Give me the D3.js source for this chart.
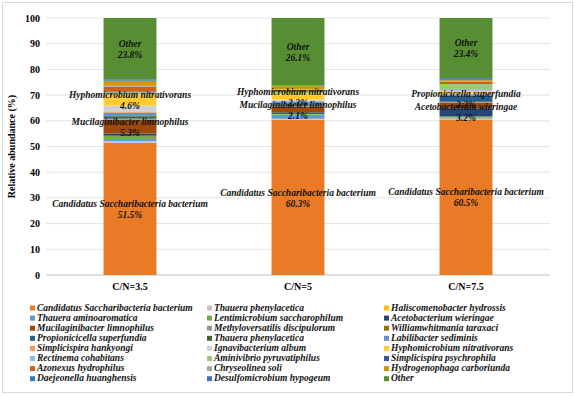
<!DOCTYPE html>
<html>
<head>
<meta charset="utf-8">
<script src="https://cdn.jsdelivr.net/npm/d3@7"></script>
<style>
  body { margin: 0; background: #fff; }
  text { font-family: "Liberation Serif", "Times New Roman", serif; }
</style>
</head>
<body>
<div id="chart"></div>
<script>
// categories (C/N ratio)
const categories = ["C/N=3.5", "C/N=5", "C/N=7.5"];

// species in series order (stacked bottom to top)
const species = [
  "Candidatus Saccharibacteria bacterium", "Thauera phenylacetica", "Haliscomenobacter hydrossis",
  "Thauera aminoaromatica", "Lentimicrobium saccharophilum", "Acetobacterium wieringae",
  "Mucilaginibacter limnophilus", "Methyloversatilis discipulorum", "Williamwhitmania taraxaci",
  "Propionicicella superfundia", "Thauera phenylacetica", "Labilibacter sediminis",
  "Simplicispira hankyongi", "Ignavibacterium album", "Hyphomicrobium nitrativorans",
  "Rectinema cohabitans", "Aminivibrio pyruvatiphilus", "Simplicispira psychrophila",
  "Azonexus hydrophilus", "Chryseolinea soli", "Hydrogenophaga carboriunda",
  "Daejeonella huanghensis", "Desulfomicrobium hypogeum", "Other"
];

const colors = [
  "#E97B27", "#C3C3C3", "#FFC000",
  "#5B9BD5", "#70AD47", "#264478",
  "#9E480E", "#959595", "#997300",
  "#255E91", "#43682B", "#698ED0",
  "#F1975A", "#D2D2D2", "#FFCD33",
  "#8EBBE2", "#9BC97A", "#3558A2",
  "#D26012", "#A5A5A5", "#CC9A00",
  "#327DC2", "#4472C4", "#588E33"
];

// relative abundance (%) per species, same order as species
const cn35 = [51.5, 0.3, 0.3, 0.8, 1.3, 0.8, 5.3, 0.3, 0.3, 0.8, 0.2, 1.2,
              0.3, 2.5, 4.6, 0.3, 0.3, 0.3, 1.9, 0.3, 2.0, 0.3, 0.3, 23.8];
const cn5  = [60.3, 0.3, 0.2, 1.6, 0.3, 0.6, 2.1, 0.3, 0.2, 0.5, 0.2, 0.8,
              0.3, 0.6, 2.3, 0.3, 0.3, 0.3, 0.6, 0.2, 1.2, 0.2, 0.2, 26.1];
const cn75 = [60.5, 0.2, 0.2, 0.3, 0.5, 3.2, 2.1, 0.2, 0.2, 2.3, 0.2, 0.3,
              0.2, 0.4, 0.9, 0.3, 2.4, 0.3, 0.6, 0.2, 0.3, 0.4, 0.4, 23.4];

// which segments carry a data label (species index) per category
const labels35 = [0, 6, 14, 23];
const labels5  = [0, 6, 14, 23];
const labels75 = [0, 5, 9, 23];

const yTicks = [0, 10, 20, 30, 40, 50, 60, 70, 80, 90, 100];

const width = 575, height = 396;

const svg = d3.select("#chart").append("svg")
    .attr("width", width)
    .attr("height", height);

// chart border
svg.append("rect")
    .attr("x", 2.5).attr("y", 2.5)
    .attr("width", width - 5).attr("height", height - 6)
    .attr("fill", "#fff").attr("stroke", "#D9D9D9");

const x = d3.scaleBand()
    .domain(categories)
    .range([46, 550])
    .paddingInner(0.685)
    .paddingOuter(0.3425);

const y = d3.scaleLinear().domain([0, 100]).range([275, 18]);

// gridlines
svg.append("g")
    .selectAll("line")
    .data(yTicks)
    .enter().append("line")
    .attr("x1", 46).attr("x2", 550)
    .attr("y1", d => y(d)).attr("y2", d => y(d))
    .attr("stroke", d => d === 0 ? "#BFBFBF" : "#E3E3E3")
    .attr("stroke-width", 1);

// y tick labels
svg.append("g")
    .selectAll("text")
    .data(yTicks)
    .enter().append("text")
    .attr("x", 40)
    .attr("y", d => y(d) + 3.5)
    .attr("text-anchor", "end")
    .attr("font-size", 10)
    .attr("font-weight", "bold")
    .text(d => d);

// y axis title
svg.append("text")
    .attr("transform", "translate(15," + y(50) + ") rotate(-90)")
    .attr("text-anchor", "middle")
    .attr("font-size", 10)
    .attr("font-weight", "bold")
    .text("Relative abundance (%)");

// x labels
svg.append("g")
    .selectAll("text")
    .data(categories)
    .enter().append("text")
    .attr("x", d => x(d) + x.bandwidth() / 2)
    .attr("y", 290)
    .attr("text-anchor", "middle")
    .attr("font-size", 10)
    .attr("font-weight", "bold")
    .text(d => d);

// build table for the stack
const valuesByCat = [cn35, cn5, cn75];
const labelsByCat = [labels35, labels5, labels75];
const table = categories.map((c, i) => {
    const row = { cat: c };
    species.forEach((s, k) => { row[k] = valuesByCat[i][k]; });
    return row;
});

const keys = species.map((s, k) => k);
const stacked = d3.stack().keys(keys)(table);

// bars
svg.append("g")
    .selectAll("g")
    .data(stacked)
    .enter().append("g")
    .attr("fill", d => colors[d.key])
    .selectAll("rect")
    .data(d => d)
    .enter().append("rect")
    .attr("x", d => x(d.data.cat))
    .attr("y", d => y(d[1]))
    .attr("width", x.bandwidth())
    .attr("height", d => y(d[0]) - y(d[1]));

// data labels
const labelData = [];
categories.forEach((c, i) => {
    labelsByCat[i].forEach(k => {
        const seg = stacked[k][i];
        labelData.push({ cat: c, name: species[k], value: valuesByCat[i][k], mid: (seg[0] + seg[1]) / 2 });
    });
});

const lab = svg.append("g")
    .selectAll("text")
    .data(labelData)
    .enter().append("text")
    .attr("text-anchor", "middle")
    .attr("font-size", 9.5)
    .attr("font-weight", "bold")
    .attr("font-style", "italic")
    .attr("fill", "#111");

lab.append("tspan")
    .attr("x", d => x(d.cat) + x.bandwidth() / 2)
    .attr("y", d => y(d.mid) - 2)
    .text(d => d.name);
lab.append("tspan")
    .attr("x", d => x(d.cat) + x.bandwidth() / 2)
    .attr("y", d => y(d.mid) + 9)
    .text(d => d.value.toFixed(1) + "%");

// legend: 3 columns, filled row by row
const colX = [30, 207, 384];
const legend = svg.append("g")
    .selectAll("g")
    .data(species)
    .enter().append("g")
    .attr("transform", (d, k) => "translate(" + colX[k % 3] + "," + (309 + Math.floor(k / 3) * 10.1) + ")");

legend.append("rect")
    .attr("x", 0).attr("y", -3.5)
    .attr("width", 5).attr("height", 5)
    .attr("fill", (d, k) => colors[k]);

legend.append("text")
    .attr("x", 7)
    .attr("y", 1.5)
    .attr("font-size", 9.5)
    .attr("font-weight", "bold")
    .attr("font-style", "italic")
    .attr("fill", "#111")
    .text(d => d);
</script>
</body>
</html>
